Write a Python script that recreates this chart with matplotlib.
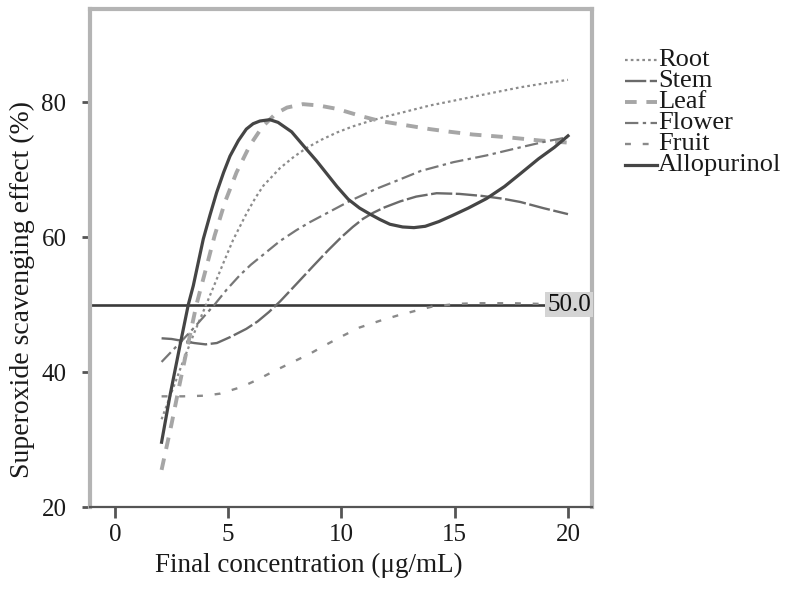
import matplotlib
matplotlib.use("Agg")
import matplotlib.pyplot as plt
from matplotlib.lines import Line2D

# ---- data ----
root_x = [2.06, 2.5, 3.0, 3.5, 4.03, 4.4, 4.78, 5.22, 5.81, 6.2, 6.55, 7.28, 7.9, 8.46, 9.1, 9.8, 10.5, 11.26, 12.0, 12.73, 13.9, 14.94, 16.4, 17.9, 19.0, 20.0]
root_y = [33.0, 37.0, 41.5, 45.8, 50.0, 53.0, 56.1, 59.6, 63.5, 65.8, 67.6, 70.2, 71.9, 73.2, 74.4, 75.5, 76.4, 77.2, 77.9, 78.5, 79.5, 80.2, 81.2, 82.2, 82.8, 83.3]

stem_x = [2.06, 2.5, 3.0, 3.5, 4.0, 4.5, 5.1, 5.8, 6.3, 6.8, 7.3, 8.0, 8.75, 9.4, 10.0, 10.5, 10.95, 11.4, 11.9, 12.6, 13.3, 14.2, 15.2, 16.2, 17.1, 17.9, 18.9, 20.0]
stem_y = [45.0, 44.9, 44.6, 44.3, 44.1, 44.3, 45.2, 46.4, 47.5, 48.9, 50.5, 53.0, 55.7, 58.0, 60.0, 61.5, 62.7, 63.6, 64.4, 65.3, 66.0, 66.5, 66.4, 66.1, 65.7, 65.2, 64.3, 63.4]

leaf_x = [2.06, 2.5, 2.8, 3.2, 3.6, 4.05, 4.4, 4.86, 5.37, 5.96, 6.5, 7.1, 7.6, 8.3, 9.0, 9.8, 10.9, 11.7, 12.8, 13.9, 14.8, 15.8, 17.3, 18.8, 20.0]
leaf_y = [25.5, 32.3, 37.3, 43.7, 50.0, 55.7, 60.2, 65.2, 69.6, 73.6, 76.3, 78.3, 79.2, 79.7, 79.5, 79.0, 77.9, 77.2, 76.6, 76.0, 75.6, 75.2, 74.8, 74.3, 74.0]

flower_x = [2.06, 2.6, 3.0, 3.5, 4.0, 4.4, 4.93, 5.5, 6.0, 6.55, 7.28, 8.0, 8.6, 9.5, 10.4, 11.5, 12.4, 13.5, 14.94, 16.4, 17.9, 19.06, 20.0]
flower_y = [41.5, 43.4, 44.8, 46.6, 48.5, 50.0, 52.2, 54.3, 55.9, 57.4, 59.4, 61.0, 62.2, 63.8, 65.4, 67.1, 68.3, 69.8, 71.1, 72.1, 73.3, 74.2, 74.8]

fruit_x = [2.06, 3.0, 4.0, 4.64, 5.6, 6.25, 7.06, 7.8, 8.6, 9.35, 10.08, 10.8, 11.7, 12.5, 13.3, 14.0, 15.1, 16.0, 17.5, 20.0]
fruit_y = [36.4, 36.4, 36.5, 36.8, 37.8, 38.8, 40.2, 41.4, 42.7, 44.1, 45.4, 46.6, 47.6, 48.4, 49.1, 49.7, 50.1, 50.2, 50.2, 50.0]

allo_x = [2.06, 2.43, 2.87, 3.24, 3.46, 3.9, 4.2, 4.49, 4.8, 5.08, 5.45, 5.8, 6.1, 6.4, 6.84, 7.2, 7.8, 8.46, 8.9, 9.35, 9.8, 10.3, 10.8, 11.26, 11.7, 12.14, 12.7, 13.2, 13.7, 14.3, 14.9, 15.6, 16.4, 17.2, 17.9, 18.7, 19.4, 20.0]
allo_y = [29.6, 36.5, 43.9, 50.0, 52.8, 59.7, 63.3, 66.6, 69.6, 72.0, 74.3, 76.0, 76.8, 77.2, 77.4, 77.0, 75.6, 73.0, 71.3, 69.4, 67.5, 65.6, 64.3, 63.4, 62.6, 61.9, 61.5, 61.4, 61.6, 62.3, 63.2, 64.3, 65.7, 67.5, 69.4, 71.6, 73.3, 75.0]

series_names = ["Root", "Stem", "Leaf", "Flower", "Fruit", "Allopurinol"]
ref_value = 50.0
x_ticks = [0, 5, 10, 15, 20]
y_ticks = [20, 40, 60, 80]

# ---- styling ----
plt.rcParams['font.family'] = ['Liberation Serif', 'DejaVu Serif']
W, H = 794, 594
fig = plt.figure(figsize=(W / 100, H / 100), dpi=100)

def fx(px):
    return px / W

def fy(py):
    return 1 - py / H

ax_l, ax_r, ax_t, ax_b = 90, 592, 9, 507
ax = fig.add_axes([fx(ax_l), fy(ax_b), (ax_r - ax_l) / W, (ax_b - ax_t) / H])
ax.set_xlim(-1.1, 21.06)
ax.set_ylim(20, 93.8)

styles = {
    "Root": dict(color="#8c8c8c", lw=1.6, ls=(0, (1.2, 1.4))),
    "Stem": dict(color="#6a6a6a", lw=1.7, ls=(0, (9, 1.5))),
    "Leaf": dict(color="#a6a6a6", lw=2.8, ls=(0, (3, 2.5))),
    "Flower": dict(color="#777777", lw=1.6, ls=(0, (6, 2, 1.5, 2))),
    "Fruit": dict(color="#8a8a8a", lw=1.7, ls=(0, (2.5, 5))),
    "Allopurinol": dict(color="#454545", lw=2.3, ls="-"),
}
data = {
    "Root": (root_x, root_y),
    "Stem": (stem_x, stem_y),
    "Leaf": (leaf_x, leaf_y),
    "Flower": (flower_x, flower_y),
    "Fruit": (fruit_x, fruit_y),
    "Allopurinol": (allo_x, allo_y),
}

ax.axhline(ref_value, color="#3a3a3a", lw=1.9, zorder=2)
for name in series_names:
    xs, ys = data[name]
    st = styles[name]
    ax.plot(xs, ys, color=st["color"], lw=st["lw"], linestyle=st["ls"], zorder=3,
            solid_joinstyle="round")

ax.text(0.998, ref_value, f"{ref_value:.1f}", transform=ax.get_yaxis_transform(),
        ha="right", va="center", fontsize=18, color="#111111", zorder=5,
        bbox=dict(facecolor="#d4d4d4", edgecolor="none", pad=1.2))

# frame
for side in ["left", "top", "right"]:
    ax.spines[side].set_color("#b4b4b4")
    ax.spines[side].set_linewidth(3.0)
ax.spines["bottom"].set_color("#555555")
ax.spines["bottom"].set_linewidth(1.6)

ax.set_xticks(x_ticks)
ax.set_xticklabels([str(v) for v in x_ticks])
ax.set_yticks(y_ticks)
ax.set_yticklabels([str(v) for v in y_ticks])
ax.tick_params(axis="x", direction="out", length=8, width=2, color="#555555",
               labelsize=18, pad=4, labelcolor="#1a1a1a")
ax.tick_params(axis="y", direction="out", length=6, width=2, color="#555555",
               labelsize=18, pad=11, labelcolor="#1a1a1a")

fig.text(fx(309), fy(572), "Final concentration (\u03bcg/mL)", ha="center", va="baseline",
         fontsize=19.5, color="#1a1a1a")
fig.text(fx(22), fy(290), "Superoxide scavenging effect (%)", ha="center", va="center",
         rotation=90, fontsize=20, color="#1a1a1a")

# legend drawn manually
base0 = 66
step = 21.1
for i, name in enumerate(series_names):
    b = base0 + i * step
    st = styles[name]
    fig.add_artist(Line2D([fx(625), fx(657)], [fy(b - 6), fy(b - 6)], color=st["color"],
                          lw=st["lw"], linestyle=st["ls"]))
    fig.text(fx(658), fy(b), name, ha="left", va="baseline", fontsize=19, color="#1a1a1a")

fig.savefig("out.png", dpi=100)
